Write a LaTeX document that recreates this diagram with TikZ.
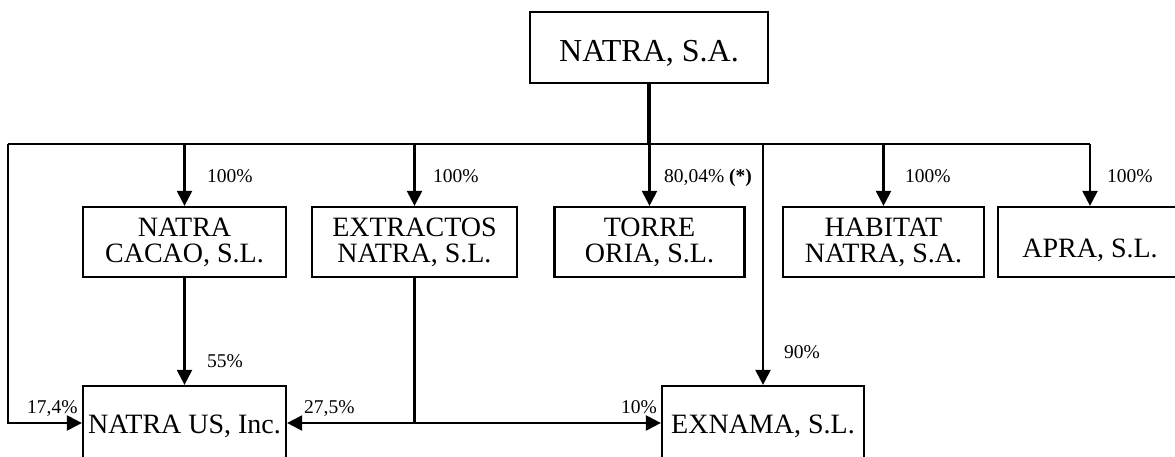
\documentclass[tikz,border=0pt]{standalone}
\usepackage{fontspec}
\setmainfont{Liberation Serif}
\usetikzlibrary{arrows.meta}

\begin{document}
\begin{tikzpicture}[x=1pt, y=-1pt,
    firm/.style={draw, line width=2.2pt, inner sep=0pt, align=center, font=\fontsize{28}{26}\selectfont},
    pct/.style={anchor=base west, inner sep=0pt, font=\fontsize{19.5}{22}\selectfont},
    link/.style={line width=2.2pt},
    own/.style={line width=2.2pt, -{Triangle[width=15pt, length=15pt]}}]
    \useasboundingbox (0,0) rectangle (1175,457);
    \clip (0,0) rectangle (1175,457);

    \node[firm, minimum width=238pt, minimum height=71pt, text height=29pt, text depth=0pt, font=\fontsize{32}{36}\selectfont] (natra) at (649, 47.5) {NATRA, S.A.};
    \node[firm, minimum width=203pt, minimum height=70pt] (cacao) at (184.5, 242) {NATRA\\CACAO, S.L.};
    \node[firm, minimum width=205pt, minimum height=70pt] (extractos) at (414.5, 242) {EXTRACTOS\\NATRA, S.L.};
    \node[firm, minimum width=190pt, minimum height=70pt] (torre) at (649.5, 242) {TORRE\\ORIA, S.L.};
    \node[firm, minimum width=201pt, minimum height=70pt] (habitat) at (883.5, 242) {HABITAT\\NATRA, S.A.};
    \node[firm, minimum width=184pt, minimum height=70pt, text height=30pt, text depth=0pt] (apra) at (1090, 242) {APRA, S.L.};
    \node[firm, minimum width=203pt, minimum height=74pt, text height=20pt, text depth=0pt] (natraus) at (184.5, 423) {NATRA US, Inc.};
    \node[firm, minimum width=202pt, minimum height=74pt, text height=20pt, text depth=0pt] (exnama) at (763, 423) {EXNAMA, S.L.};

    \coordinate (bus) at (649, 144);
    \coordinate (busL) at (8, 144);
    \coordinate (split) at (extractos |- natraus);

    \draw[line width=4pt] (natra) -- (bus);
    \draw[link] (busL) -- (apra |- bus);
    \draw[own] (cacao |- bus) -- (cacao);
    \draw[own] (extractos |- bus) -- (extractos);
    \draw[own] (torre |- bus) -- (torre);
    \draw[own] (habitat |- bus) -- (habitat);
    \draw[own] (apra |- bus) -- (apra);
    \draw[own] (exnama |- bus) -- (exnama);
    \draw[own] (busL) |- (natraus);
    \draw[own] (cacao) -- (natraus);
    \draw[link] (extractos) -- (split);
    \draw[own] (split) -- (natraus);
    \draw[own] (split) -- (exnama);

    \node[pct] (pcacao) at (207, 183) {100\%};
    \node[pct] (pextractos) at (433, 183) {100\%};
    \node[pct] (ptorre) at (664, 183) {80,04\% \textbf{(*)}};
    \node[pct] (phabitat) at (905, 183) {100\%};
    \node[pct] (papra) at (1107, 183) {100\%};
    \node[pct] (pcacaous) at (207, 367) {55\%};
    \node[pct] (pexnama) at (784, 358) {90\%};
    \node[pct] (pnatraus) at (27, 413) {17,4\%};
    \node[pct] (pextractosus) at (304, 413) {27,5\%};
    \node[pct] (pextractosex) at (621, 413) {10\%};
\end{tikzpicture}
\end{document}
